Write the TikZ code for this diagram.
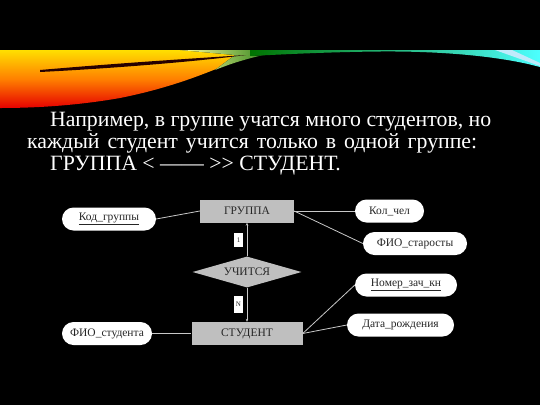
\documentclass[tikz,border=0pt]{standalone}
\usepackage{fontspec}
\setmainfont{Liberation Serif}
\usepackage{tikz}
\usetikzlibrary{positioning,shapes.geometric,arrows.meta}
\definecolor{entitygray}{HTML}{BFBFBF}
\definecolor{linkgray}{HTML}{C8C8C8}
\definecolor{labelink}{HTML}{262626}
\tikzset{
	slide text/.style={
		anchor=base west,
		inner sep=0pt,
		text=white,
		font=\fontsize{21.8}{24}\selectfont
	},
	er diagram/.style={
		font=\fontsize{11.5}{13}\selectfont,
		entity/.style={
			rectangle,
			fill=entitygray,
			text=labelink,
			inner sep=0pt,
			minimum height=23pt
		},
		relationship/.style={
			diamond,
			aspect=3.5,
			fill=entitygray,
			text=labelink,
			inner sep=0pt,
			minimum width=109pt,
			minimum height=31pt
		},
		attribute/.style={
			rectangle,
			rounded corners=11.5pt,
			fill=white,
			text=labelink,
			inner sep=0pt,
			minimum height=23pt
		},
		card label/.style={
			rectangle,
			fill=white,
			text=labelink,
			inner sep=0pt,
			minimum width=9pt,
			font=\fontsize{7}{8}\selectfont
		},
		er link/.style={
			draw=linkgray,
			line width=0.8pt
		},
		er arrow/.style={
			er link,
			-{Stealth[length=3pt,width=2.5pt]}
		}
	}
}

\begin{document}
\begin{tikzpicture}[x=1pt,y=-1pt]
	\useasboundingbox[fill=black] (0,0) rectangle (540,405);

	% swoosh at the top
	\fill[top color=yellow!75!orange,bottom color=red!90!black,middle color=orange]
		(0,50) -- (262,50) .. controls (230,62) and (190,84) .. (120,98)
		.. controls (80,105) and (40,108) .. (0,108) -- cycle;
	\fill[left color=yellow!40!white,right color=green!40!black]
		(180,50) -- (290,50) .. controls (260,55) and (240,60) .. (215,70) -- (235,55) -- cycle;
	\fill[black!85!red]
		(40,70) .. controls (120,63) and (200,58) .. (246,55)
		.. controls (200,61) and (120,68) .. (40,72) -- cycle;
	\fill[left color=green!45!black,right color=cyan!70!white]
		(250,50) -- (540,50) -- (540,67) .. controls (500,56) and (440,51) .. (380,51.5)
		.. controls (330,52) and (290,54) .. (250,56) -- cycle;
	\fill[cyan!25!white] (495,50) -- (512,50) -- (540,63) -- (540,66) -- cycle;

	% slide text
	\node[slide text] (line1) at (50,126) {Например, в группе учатся много студентов, но};
	\node[slide text] (line2) at (27,148) {\makebox[450pt][s]{каждый студент учится только в одной группе:}};
	\node[slide text] (line3) at (50,170) {ГРУППА < —— {>}{>} СТУДЕНТ.};

	\begin{scope}[er diagram]
		\node[entity,minimum width=94pt] (grp) at (247,211) {ГРУППА};
		\node[relationship] (rel) at (247,272) {УЧИТСЯ};
		\node[entity,minimum width=111pt] (stud) at (247,333.5) {СТУДЕНТ};

		\node[attribute,minimum width=94pt] (kodgr) at (109,219) {\underline{Код\_группы}};
		\node[attribute,minimum width=90pt] (fiostud) at (107,333.5) {ФИО\_студента};
		\node[attribute,minimum width=69pt] (kolchel) at (389.5,211) {Кол\_чел};
		\node[attribute,minimum width=104pt] (fiostar) at (415,243.5) {ФИО\_старосты};
		\node[attribute,minimum width=102pt] (nomzach) at (406,285) {\underline{Номер\_зач\_кн}};
		\node[attribute,minimum width=107pt] (datar) at (400.5,325) {Дата\_рождения};

		\node[card label,minimum height=14pt] (one) at (238.5,240) {1};
		\node[card label,minimum height=17pt] (many) at (238.5,304.5) {N};

		\draw[er arrow] (rel) -- (grp);
		\draw[er arrow] (rel) -- (stud);
		\draw[er link] (kodgr.east) -- (grp.west);
		\draw[er link] (grp.east) -- (kolchel.west);
		\draw[er link] (grp.east) -- (fiostar.west);
		\draw[er link] (fiostud) -- (stud);
		\draw[er link] (stud.east) -- (nomzach.west);
		\draw[er link] (stud.east) -- (datar.west);
	\end{scope}
\end{tikzpicture}
\end{document}
